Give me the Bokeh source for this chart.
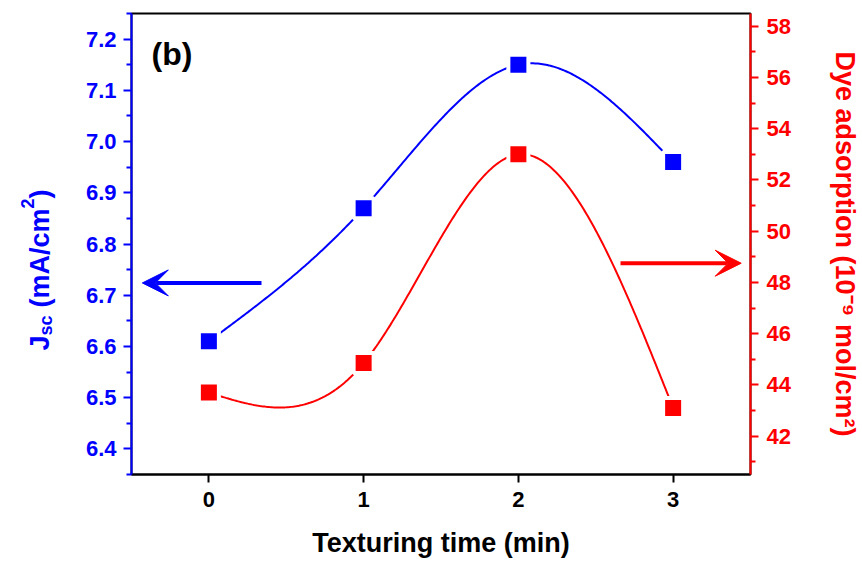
import numpy as np
from bokeh.plotting import figure
from bokeh.layouts import row
from bokeh.models import (Range1d, LinearAxis, FixedTicker, Label, Arrow, VeeHead,
                          NumeralTickFormatter)
from bokeh.core.properties import value
from bokeh.embed import file_html
from bokeh.resources import INLINE

# ---- data ----
time_min = [0, 1, 2, 3]
jsc = [6.61, 6.87, 7.15, 6.96]
dye = [43.7, 44.85, 53.0, 43.1]

x_ticks = [0, 1, 2, 3]
jsc_ticks = [6.4, 6.5, 6.6, 6.7, 6.8, 6.9, 7.0, 7.1, 7.2]
dye_ticks = [42, 44, 46, 48, 50, 52, 54, 56, 58]

BLUE = "#0000FF"
RED = "#FF0000"
FONT = "Liberation Sans"


def natural_spline(x, y, n=300):
    x = np.asarray(x, float)
    y = np.asarray(y, float)
    k = len(x)
    h = np.diff(x)
    A = np.zeros((k, k))
    r = np.zeros(k)
    A[0, 0] = A[-1, -1] = 1.0
    for i in range(1, k - 1):
        A[i, i - 1] = h[i - 1]
        A[i, i] = 2 * (h[i - 1] + h[i])
        A[i, i + 1] = h[i]
        r[i] = 6 * ((y[i + 1] - y[i]) / h[i] - (y[i] - y[i - 1]) / h[i - 1])
    M = np.linalg.solve(A, r)
    xs = np.linspace(x[0], x[-1], n)
    idx = np.clip(np.searchsorted(x, xs, side="right") - 1, 0, k - 2)
    x0, x1 = x[idx], x[idx + 1]
    hh = x1 - x0
    a = (x1 - xs) / hh
    b = (xs - x0) / hh
    ys = a * y[idx] + b * y[idx + 1] + ((a ** 3 - a) * M[idx] + (b ** 3 - b) * M[idx + 1]) * hh ** 2 / 6
    return xs, ys


def midpoints(t):
    step = t[1] - t[0]
    return [round(t[0] - step / 2 + i * step, 4) for i in range(len(t) + 1)]


LAB_W = 70
TOP, BOTTOM = 13, 89
p = figure(width=862 - LAB_W, height=563,
           x_range=Range1d(-0.5, 3.5), y_range=Range1d(6.35, 7.25),
           output_backend="svg", toolbar_location=None,
           min_border_left=131 - LAB_W, min_border_right=112,
           min_border_top=TOP, min_border_bottom=BOTTOM)
p.extra_y_ranges = {"dye": Range1d(40.5, 58.5)}
p.grid.visible = False
p.outline_line_color = "black"
p.outline_line_width = 2
p.background_fill_color = "white"
p.border_fill_color = "white"

# bottom axis
xa = p.xaxis[0]
xa.ticker = FixedTicker(ticks=x_ticks, minor_ticks=[])
xa.axis_label = "Texturing time (min)"
xa.axis_label_text_font = FONT
xa.axis_label_text_font_style = "bold"
xa.axis_label_text_font_size = "27px"
xa.axis_label_text_color = "black"
xa.axis_label_standoff = 18
xa.major_label_text_font = FONT
xa.major_label_text_font_style = "bold"
xa.major_label_text_font_size = "22px"
xa.major_label_text_color = "black"
xa.major_label_standoff = 9
xa.major_tick_out = 8
xa.major_tick_in = 0
xa.minor_tick_out = 0
xa.minor_tick_in = 0
xa.axis_line_width = 2
xa.major_tick_line_width = 2
xa.axis_line_color = "black"
xa.major_tick_line_color = "black"

# left axis
ya = p.yaxis[0]
ya.ticker = FixedTicker(ticks=jsc_ticks, minor_ticks=midpoints(jsc_ticks))
ya.formatter = NumeralTickFormatter(format="0.0")
ya.major_label_text_font = FONT
ya.major_label_text_font_style = "bold"
ya.major_label_text_font_size = "22px"
ya.major_label_text_color = BLUE
ya.major_label_standoff = 7
ya.axis_line_color = BLUE
ya.axis_line_width = 2
ya.major_tick_line_color = BLUE
ya.minor_tick_line_color = BLUE
ya.major_tick_line_width = 2
ya.minor_tick_line_width = 2
ya.major_tick_out = 8
ya.major_tick_in = 0
ya.minor_tick_out = 5
ya.minor_tick_in = 0

# right axis
ra = LinearAxis(y_range_name="dye",
                ticker=FixedTicker(ticks=dye_ticks, minor_ticks=midpoints(dye_ticks)))
ra.axis_label = "Dye adsorption (10\u207b\u2079 mol/cm\u00b2)"
ra.axis_label_text_font = FONT
ra.axis_label_text_font_style = "bold"
ra.axis_label_text_font_size = "27px"
ra.axis_label_text_color = RED
ra.axis_label_standoff = 36
ra.major_label_text_font = FONT
ra.major_label_text_font_style = "bold"
ra.major_label_text_font_size = "22px"
ra.major_label_text_color = RED
ra.major_label_standoff = 8
ra.axis_line_color = RED
ra.axis_line_width = 2
ra.major_tick_line_color = RED
ra.minor_tick_line_color = RED
ra.major_tick_line_width = 2
ra.minor_tick_line_width = 2
ra.major_tick_out = 8
ra.major_tick_in = 0
ra.minor_tick_out = 5
ra.minor_tick_in = 0
p.add_layout(ra, "right")

# curves
bx, by = natural_spline(time_min, jsc)
rx, ry = natural_spline(time_min, dye)
p.line(rx, ry, line_color=RED, line_width=2, y_range_name="dye")
p.line(bx, by, line_color=BLUE, line_width=2)
p.scatter(time_min, dye, marker="square", size=20, fill_color=RED,
          line_color="white", line_width=4, y_range_name="dye")
p.scatter(time_min, jsc, marker="square", size=20, fill_color=BLUE,
          line_color="white", line_width=4)

# arrows
p.add_layout(Arrow(x_start=0.34, y_start=6.724, x_end=-0.43, y_end=6.724,
                   line_color=BLUE, line_width=4,
                   end=VeeHead(size=26, fill_color=BLUE, line_color=BLUE, line_width=1)))
p.add_layout(Arrow(x_start=2.66, y_start=48.75, x_end=3.44, y_end=48.75,
                   y_range_name="dye", line_color=RED, line_width=4,
                   end=VeeHead(size=26, fill_color=RED, line_color=RED, line_width=1)))

# panel tag
p.add_layout(Label(x=-0.37, y=7.207, text="(b)", text_font=FONT, text_font_style="bold",
                   text_font_size="32px", text_baseline="top", text_align="left",
                   text_color="black"))

# left axis title (with subscript and superscript) drawn in a narrow strip figure
# whose frame is aligned with the main frame; coordinates are page pixels (y up)
lab = figure(width=LAB_W, height=563, x_range=Range1d(0, LAB_W),
             y_range=Range1d(BOTTOM, 563 - TOP),
             output_backend="svg", toolbar_location=None,
             min_border_left=0, min_border_right=0,
             min_border_top=TOP, min_border_bottom=BOTTOM,
             x_axis_location=None, y_axis_location=None)
lab.grid.visible = False
lab.outline_line_color = None
lab.background_fill_color = "white"
lab.border_fill_color = "white"

pieces = [  # text, font size, x (px), y (px from top)
    ("J", "27px", 39, 350),
    ("sc", "18px", 45, 335),
    ("(mA/cm", "27px", 39, 307),
    ("2", "18px", 27, 208),
    (")", "27px", 39, 198),
]
for txt, fs, sx, sy in pieces:
    lab.text(x=[sx], y=[563 - sy], text=[txt], angle=np.pi / 2,
             text_font=value(FONT), text_font_style="bold", text_font_size=fs,
             text_color=BLUE, text_baseline="alphabetic", text_align="left")

layout = row(lab, p)
open("out.html", "w").write(file_html(layout, INLINE))
